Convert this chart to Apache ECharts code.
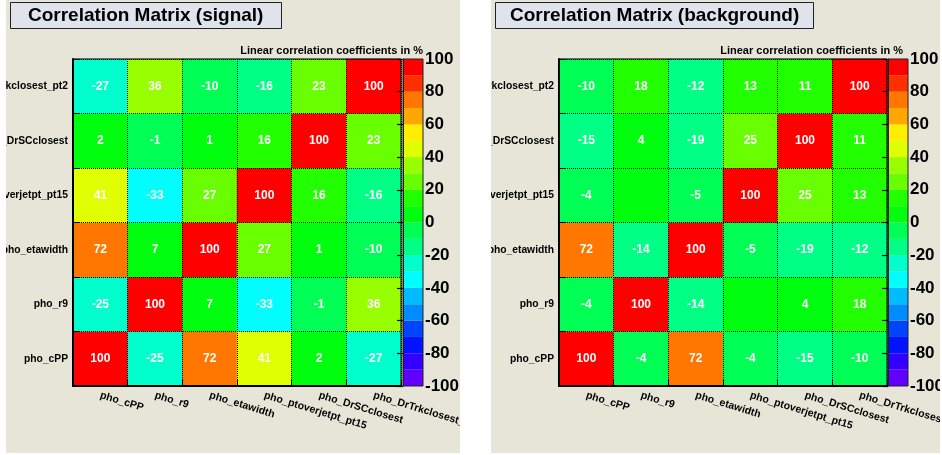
<!DOCTYPE html>
<html><head><meta charset="utf-8">
<script src="https://cdn.jsdelivr.net/npm/echarts@6/dist/echarts.min.js"></script>
<style>
html,body{margin:0;padding:0;background:#fff;width:942px;height:455px;overflow:hidden}
.panel{position:absolute;top:0;height:453px;background:#e7e4d8;overflow:hidden}
#sig{left:6px;width:454px}
#bkg{left:491px;width:449px}
</style></head><body>
<div id="sig" class="panel"></div><div id="bkg" class="panel"></div>
<script>
// variable names (x categories left->right, y categories bottom->top)
const variables = ['pho_cPP','pho_r9','pho_etawidth','pho_ptoverjetpt_pt15','pho_DrSCclosest','pho_DrTrkclosest_pt2'];

// signal correlation matrix rows (row = y variable, bottom -> top)
const sigRowCPP    = [100, -25, 72, 41, 2, -27];
const sigRowR9     = [-25, 100, 7, -33, -1, 36];
const sigRowEta    = [72, 7, 100, 27, 1, -10];
const sigRowPtJet  = [41, -33, 27, 100, 16, -16];
const sigRowDrSC   = [2, -1, 1, 16, 100, 23];
const sigRowDrTrk  = [-27, 36, -10, -16, 23, 100];

// background correlation matrix rows
const bkgRowCPP    = [100, -4, 72, -4, -15, -10];
const bkgRowR9     = [-4, 100, -14, 0, 4, 18];
const bkgRowEta    = [72, -14, 100, -5, -19, -12];
const bkgRowPtJet  = [-4, 0, -5, 100, 25, 13];
const bkgRowDrSC   = [-15, 4, -19, 25, 100, 11];
const bkgRowDrTrk  = [-10, 18, -12, 13, 11, 100];

// colour scale edges (20 contours) and axis ticks
const bandEdges = [-100,-90,-80,-70,-60,-50,-40,-30,-20,-10,0,10,20,30,40,50,60,70,80,90,100];
const scaleMin = -100, scaleMax = 100, scaleStep = 20;

const palette = ['#6200ff','#3300ff','#0014ff','#0044ff','#008bff','#00bbff','#00fffc','#00ffcc','#00ff85','#00ff55',
                 '#00ff0e','#22ff00','#69ff00','#99ff00','#e0ff00','#ffee00','#ffa700','#ff7700','#ff3000','#ff0000'];

const FONT = '"Liberation Sans", Arial, Helvetica, sans-serif';

function build(el, titleText, rows, plotLeft, cbLeft, titlePad) {
  const chart = echarts.init(el, null, {renderer: 'canvas'});
  const data = [];
  rows.forEach((row, yi) => row.forEach((v, xi) => data.push([xi, yi, v])));
  const bands = [];
  for (let i = 0; i < bandEdges.length - 1; i++) bands.push([bandEdges[i], bandEdges[i + 1]]);
  const pieces = bands.map((b, i) => (i === bands.length - 1)
    ? {gte: b[0], lte: b[1], color: palette[i]}
    : {gte: b[0], lt: b[1], color: palette[i]});
  chart.setOption({
    animation: false,
    backgroundColor: 'transparent',
    title: [{
      text: titleText, left: 4, top: 2,
      backgroundColor: '#dfe4ec', borderColor: '#222', borderWidth: 1,
      padding: [4, titlePad, 4, titlePad],
      textStyle: {fontFamily: FONT, fontSize: 19, fontWeight: 'bold', color: '#000', lineHeight: 19}
    }, {
      text: 'Linear correlation coefficients in %', right: 37, top: 45, padding: 0,
      textStyle: {fontFamily: FONT, fontSize: 11, fontWeight: 'bold', color: '#000'}
    }],
    grid: [
      {left: plotLeft, top: 59, width: 328, height: 327, show: true, borderColor: '#000', borderWidth: 1,
       backgroundColor: 'transparent', z: 6, containLabel: false, outerBoundsMode: 'none'},
      {left: cbLeft, top: 59, width: 20, height: 327, show: true, borderColor: '#222', borderWidth: 1,
       backgroundColor: 'transparent', z: 6, containLabel: false, outerBoundsMode: 'none'}
    ],
    xAxis: [{
      gridIndex: 0, type: 'category', data: variables, z: 5,
      axisLine: {show: true, lineStyle: {color: '#000', width: 2}},
      axisTick: {show: true, inside: true, length: 7, lineStyle: {color: '#000'}},
      splitLine: {show: true, lineStyle: {color: '#000', type: 'dotted', width: 1}},
      axisLabel: {interval: 0, rotate: -17, margin: 9, fontFamily: FONT, fontSize: 10.5, fontWeight: 'bold', color: '#000', hideOverlap: false}
    }, {
      gridIndex: 1, type: 'value', min: 0, max: 1, show: false
    }],
    yAxis: [{
      gridIndex: 0, type: 'category', data: variables, z: 5,
      axisLine: {show: true, lineStyle: {color: '#000', width: 2}},
      axisTick: {show: true, inside: true, length: 7, lineStyle: {color: '#000'}},
      splitLine: {show: true, lineStyle: {color: '#000', type: 'dotted', width: 1}},
      axisLabel: {interval: 0, margin: 5, fontFamily: FONT, fontSize: 10.3, fontWeight: 'bold', color: '#000'}
    }, {
      gridIndex: 1, type: 'value', position: 'right', min: scaleMin, max: scaleMax, interval: scaleStep, z: 5,
      axisLine: {show: true, lineStyle: {color: '#222', width: 1}},
      axisTick: {show: true, inside: true, length: 6, lineStyle: {color: '#000', width: 1.2}},
      splitLine: {show: false},
      axisLabel: {margin: 2, fontFamily: FONT, fontSize: 17, fontWeight: 'bold', color: '#000'}
    }],
    visualMap: {type: 'piecewise', show: false, seriesIndex: 0, dimension: 2, pieces: pieces},
    series: [{
      type: 'heatmap', xAxisIndex: 0, yAxisIndex: 0, data: data,
      label: {show: true, color: '#fff', fontFamily: FONT, fontSize: 12, fontWeight: 'bold',
        formatter: p => p.value[2] === 0 ? '' : String(p.value[2])},
      emphasis: {disabled: true}
    }, {
      type: 'custom', xAxisIndex: 1, yAxisIndex: 1, data: bands,
      renderItem: (params, api) => {
        const lo = api.coord([0, api.value(0)]);
        const hi = api.coord([1, api.value(1)]);
        return {type: 'rect', shape: {x: lo[0], y: hi[1], width: hi[0] - lo[0], height: lo[1] - hi[1]},
          style: {fill: palette[params.dataIndex]}};
      }
    }]
  });
}

build(document.getElementById('sig'), 'Correlation Matrix (signal)',
  [sigRowCPP, sigRowR9, sigRowEta, sigRowPtJet, sigRowDrSC, sigRowDrTrk], 67, 397, 18);
build(document.getElementById('bkg'), 'Correlation Matrix (background)',
  [bkgRowCPP, bkgRowR9, bkgRowEta, bkgRowPtJet, bkgRowDrSC, bkgRowDrTrk], 68, 397, 15);
</script>
</body></html>
